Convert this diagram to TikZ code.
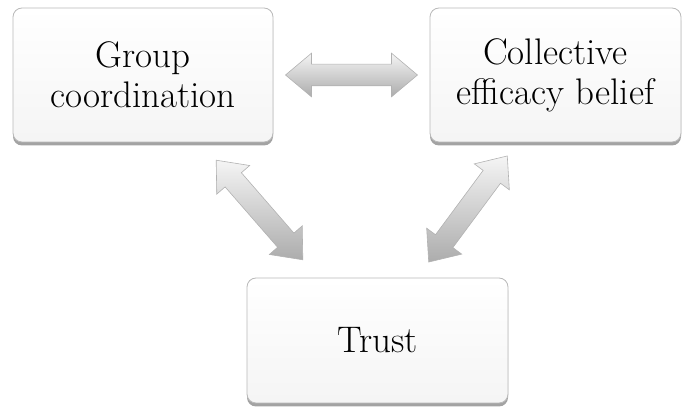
\documentclass[tikz,border=0pt]{standalone}
\usetikzlibrary{shapes.arrows,shadows}
\begin{document}
\begin{tikzpicture}[
        x=1pt, y=1pt,
        box/.style={rectangle, rounded corners=9pt, draw=gray!55, line width=0.8pt,
            top color=white, bottom color=gray!8, align=center, inner sep=0pt,
            drop shadow={shadow xshift=0pt, shadow yshift=-3.5pt, opacity=0.6, fill=black!60},
            font=\fontsize{37}{40}\selectfont},
        dblarrow/.style={double arrow, draw=gray!60, line width=0.6pt,
            top color=gray!8, bottom color=gray!65, sloped,
            minimum height=132pt, inner xsep=0pt, inner ysep=10.5pt,
            double arrow head extend=11pt, double arrow tip angle=80}
    ]
    \useasboundingbox (0,0) rectangle (683,412);
    % Blocks
    \node [box, minimum width=260pt, minimum height=134pt] (GC) at (143,337) {Group\\coordination};
    \node [box, minimum width=251pt, minimum height=134pt] (CEB) at (555.5,337) {Collective\\efficacy belief};
    \node [box, minimum width=261pt, minimum height=125pt] (TR) at (377.5,71.5) {Trust};

    % Connections
    \coordinate (GCa) at (216,252);
    \coordinate (TRa) at (303,152);
    \coordinate (TRb) at (428,149);
    \coordinate (CEBa) at (508,257);
    \path (GC.east) -- node [dblarrow] {} (CEB.west);
    \path (GCa) -- node [dblarrow] {} (TRa);
    \path (TRb) -- node [dblarrow] {} (CEBa);
\end{tikzpicture}
\end{document}
